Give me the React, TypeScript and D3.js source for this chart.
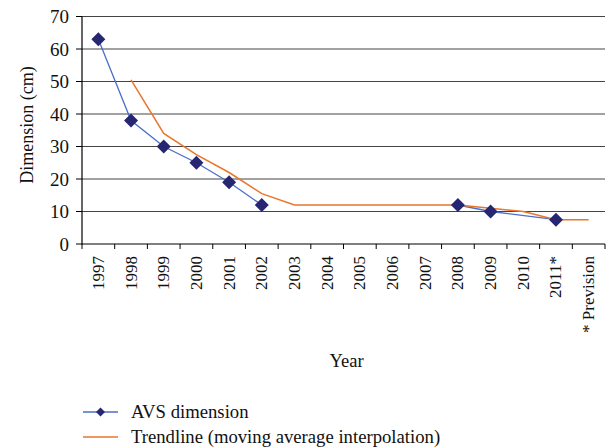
import React from "react";
import * as d3 from "d3";

const categories = ["1997","1998","1999","2000","2001","2002","2003","2004","2005","2006","2007","2008","2009","2010","2011*","* Prevision"];
const avsValues: (number | null)[] = [63, 38, 30, 25, 19, 12, null, null, null, null, null, 12, 10, null, 7.5, null];
const trendValues: (number | null)[] = [null, 50.5, 34, 27.5, 22, 15.5, 12, 12, 12, 12, 12, 12, 11, 10, 7.5, 7.5];
const yTicks = [0, 10, 20, 30, 40, 50, 60, 70];

const W = 611, H = 448;
const left = 82, right = 605, top = 16.5, bottom = 244;
const FONT = '"Liberation Serif", "DejaVu Serif", serif';
const BLUE = "#4a6fc8";
const NAVY = "#262673";
const ORANGE = "#e8762d";
const txt = { fontFamily: FONT, fill: "#111" } as React.CSSProperties;

function diamond(cx: number, cy: number, r: number) {
  return `M${cx},${cy - r}L${cx + r},${cy}L${cx},${cy + r}L${cx - r},${cy}Z`;
}

export default function App() {
  const x = d3.scaleBand<string>().domain(categories).range([left, right]).padding(0);
  const y = d3.scaleLinear().domain([0, 70]).range([bottom, top]);
  const cx = (i: number) => (x(categories[i]) as number) + x.bandwidth() / 2;

  const pts = avsValues.map((v, i) => ({ i, v })).filter((p) => p.v !== null) as { i: number; v: number }[];
  const segs: { i: number; v: number }[][] = [];
  pts.forEach((p, k) => {
    if (k === 0 || p.i - pts[k - 1].i > 2) segs.push([p]);
    else segs[segs.length - 1].push(p);
  });
  const line = d3.line<{ i: number; v: number }>().x((d) => cx(d.i)).y((d) => y(d.v));
  const trendLine = d3
    .line<number | null>()
    .defined((d) => d !== null)
    .x((_, i) => cx(i))
    .y((d) => y(d as number));

  const boundaries = d3.range(categories.length + 1).map((k) => left + k * x.step());

  return (
    <svg width={W} height={H} style={{ position: "absolute", left: 0, top: 0, background: "#fff" }}>
      {yTicks.filter((t) => t > 0).map((t) => (
        <line key={t} x1={left} x2={right} y1={y(t)} y2={y(t)} stroke="#444" strokeWidth={1} />
      ))}
      <line x1={left} x2={left} y1={top} y2={bottom + 0.5} stroke="#000" strokeWidth={1.2} />
      <line x1={left} x2={right} y1={bottom} y2={bottom} stroke="#000" strokeWidth={1.2} />
      {yTicks.map((t) => (
        <g key={t}>
          <line x1={left - 6} x2={left} y1={y(t)} y2={y(t)} stroke="#000" />
          <text x={69} y={y(t)} textAnchor="end" dominantBaseline="central" fontSize={19} style={txt}>{t}</text>
        </g>
      ))}
      {boundaries.map((b, k) => (
        <line key={k} x1={b} x2={b} y1={bottom} y2={bottom + 5} stroke="#000" />
      ))}
      {categories.map((c, i) => (
        <text key={c} transform={`translate(${cx(i)},${bottom + 12}) rotate(-90)`} textAnchor="end" dominantBaseline="central" fontSize={17} style={txt}>{c}</text>
      ))}
      <text transform={`translate(27,125) rotate(-90)`} textAnchor="middle" dominantBaseline="central" fontSize={18} style={txt}>Dimension (cm)</text>
      <text x={(left + right) / 2 + 3} y={367} textAnchor="middle" fontSize={18.5} style={txt}>Year</text>

      {segs.map((s, k) => (
        <path key={k} d={line(s) as string} fill="none" stroke={BLUE} strokeWidth={1.3} />
      ))}
      <path d={trendLine(trendValues) as string} fill="none" stroke={ORANGE} strokeWidth={1.5} />
      {pts.map((p) => (
        <path key={p.i} d={diamond(cx(p.i), y(p.v), 7)} fill={NAVY} />
      ))}

      <line x1={83} x2={118} y1={412} y2={412} stroke={BLUE} strokeWidth={1.3} />
      <path d={diamond(100.5, 412, 4.5)} fill={NAVY} />
      <text x={131} y={417.5} fontSize={18.7} style={txt}>AVS dimension</text>
      <line x1={83} x2={118} y1={437} y2={437} stroke={ORANGE} strokeWidth={1.5} />
      <text x={131} y={442.5} fontSize={18.7} style={txt}>Trendline (moving average interpolation)</text>
    </svg>
  );
}
